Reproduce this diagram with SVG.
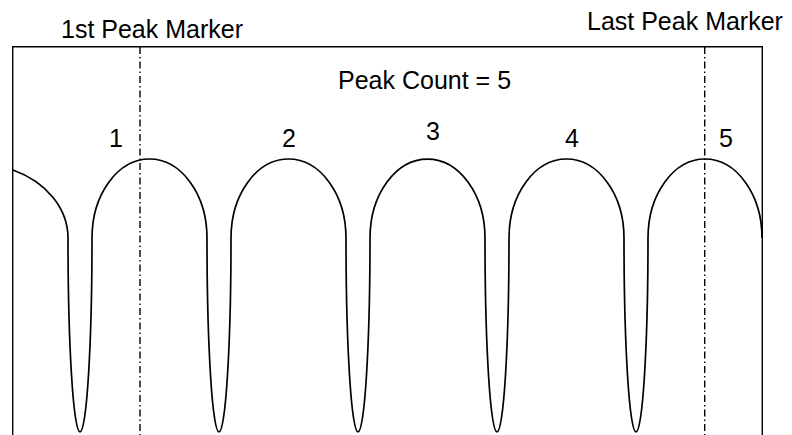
<svg xmlns="http://www.w3.org/2000/svg" width="792" height="435" viewBox="0 0 792 435">
<style>
text{font-family:"Liberation Sans",Arial,sans-serif;font-size:25px;fill:#000}
.box{fill:none;stroke:#000;stroke-width:1.4}
.marker{stroke:#000;stroke-width:1.4;stroke-dasharray:7 3 1.5 3;fill:none}
.wave{fill:none;stroke:#000;stroke-width:1.7}
</style>
<rect width="792" height="435" fill="#fff"/>
<g id="frame">
<path class="box" d="M12.7 436 V46.7 H762.3 V436"/>
</g>
<g id="labels">
<text x="61" y="38">1st Peak Marker</text>
<text x="587" y="30">Last Peak Marker</text>
<text x="338" y="89">Peak Count = 5</text>
<text x="109" y="147">1</text>
<text x="282" y="147">2</text>
<text x="426" y="140">3</text>
<text x="565" y="147">4</text>
<text x="719" y="147">5</text>
</g>
<g id="markers">
<line class="marker" x1="140" y1="47" x2="140" y2="435"/>
<line class="marker" x1="704.7" y1="47" x2="704.7" y2="435"/>
</g>
<g id="waveform">
<path class="wave" d="M13 170 A93 74.5 0 0 1 68 238"/>
<path class="wave" d="M68 238 A12 194 0 0 0 92 238 M92 238 A57.5 79 0 0 1 207 238 A12 194 0 0 0 231 238 A57.5 79 0 0 1 346 238 A12 194 0 0 0 370 238 A57.5 79 0 0 1 485 238 A12 194 0 0 0 509 238 A57.5 79 0 0 1 624 238 A12 194 0 0 0 648 238 A57 79 0 0 1 762 238"/>
</g>
</svg>
